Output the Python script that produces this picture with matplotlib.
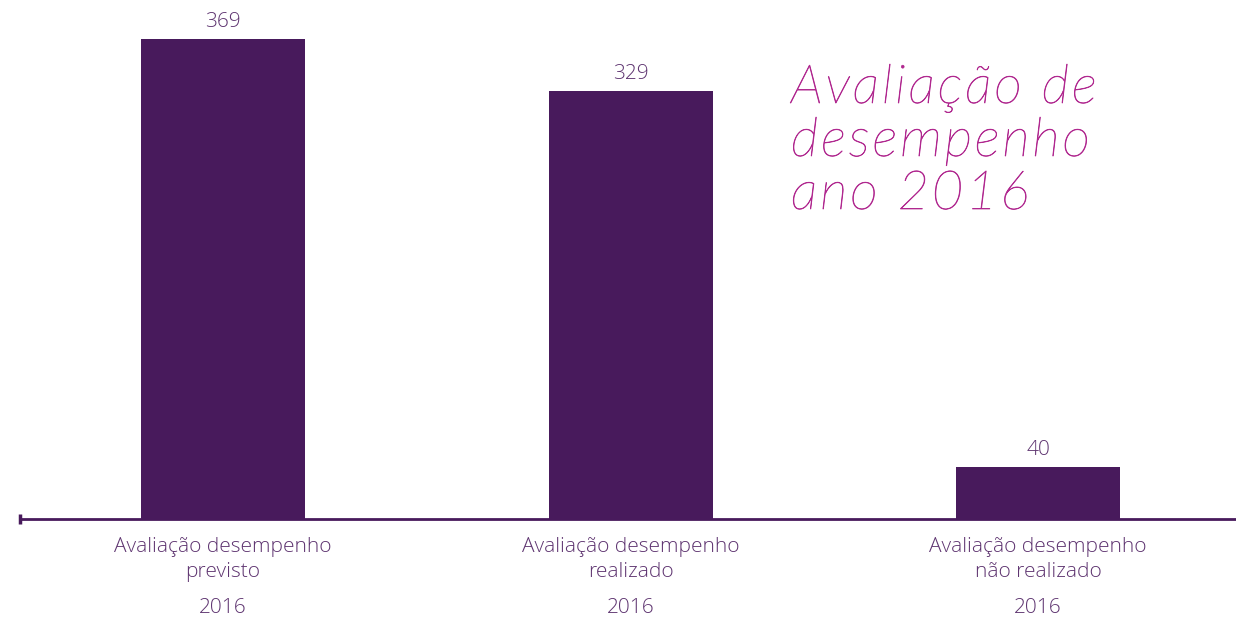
import matplotlib
matplotlib.use("Agg")
import matplotlib.pyplot as plt
from matplotlib.font_manager import FontProperties
from matplotlib.textpath import TextPath, text_to_path
from matplotlib.patches import PathPatch
from matplotlib.transforms import Affine2D, IdentityTransform

categories = ["Avaliação desempenho\nprevisto",
              "Avaliação desempenho\nrealizado",
              "Avaliação desempenho\nnão realizado"]
years = ["2016", "2016", "2016"]
values = [369, 329, 40]
title_lines = ["Avaliação de", "desempenho", "ano 2016"]

bar_color = "#481a5c"
text_color = "#5e3470"
title_color = "#b0288f"
font = ["Open Sans", "DejaVu Sans"]

W, H = 1236, 617
fig = plt.figure(figsize=(W / 100, H / 100), dpi=100)

axis_y_px = 519
px_per_unit = 480 / 369
ax = fig.add_axes([20 / W, (H - axis_y_px) / H, (W - 20) / W, axis_y_px / H])
spacing = 407.5
x = list(range(len(values)))
ax.set_xlim((20 - 223) / spacing, (W - 223) / spacing)
ax.set_ylim(0, axis_y_px / px_per_unit)
ax.bar(x, values, width=164 / spacing, color=bar_color, zorder=2)

for s in ["top", "right", "left"]:
    ax.spines[s].set_visible(False)
ax.spines["bottom"].set_color(bar_color)
ax.spines["bottom"].set_linewidth(2)
ax.set_yticks([])
ax.set_xticks([])

# small end tick at the left of the baseline
ax.plot([ax.get_xlim()[0]] * 2, [-5 / px_per_unit, 5 / px_per_unit],
        color=bar_color, lw=2.5, clip_on=False, solid_capstyle="butt")

for xi, v in zip(x, values):
    ax.annotate(str(v), (xi, v), xytext=(0, 5), textcoords="offset points",
                ha="center", va="bottom", fontsize=15, color=text_color,
                family=font, fontweight="light")

for xi, cat, yr in zip(x, categories, years):
    ax.annotate(cat, (xi, 0), xytext=(0, -13), textcoords="offset points",
                ha="center", va="top", fontsize=15, color=text_color,
                family=font, fontweight="light", linespacing=1.3)
    ax.annotate(yr, (xi, 0), xytext=(0, -57), textcoords="offset points",
                ha="center", va="top", fontsize=15, color=text_color,
                family=font, fontweight="light")

# Title: thin italic with open letter spacing, laid out glyph by glyph
title_prop = FontProperties(family="Lato", weight="light", style="italic")
size_px = 54
tracking_px = 2.8
ft = text_to_path._get_font(title_prop)
ft.set_size(text_to_path.FONT_SCALE, text_to_path.DPI)
scale = size_px / text_to_path.FONT_SCALE
baselines = [103, 156, 209]
for line, by in zip(title_lines, baselines):
    glyph_info = text_to_path.get_glyphs_with_font(ft, line)[0]
    xpos = [g[1] for g in glyph_info]
    for i, ch in enumerate(line):
        if ch == " ":
            continue
        tp = TextPath((0, 0), ch, size=size_px, prop=title_prop)
        tr = Affine2D().translate(791 + xpos[i] * scale + i * tracking_px, H - by)
        fig.patches.append(PathPatch(tr.transform_path(tp), facecolor=title_color,
                                     edgecolor=title_color, linewidth=0.5,
                                     transform=IdentityTransform(), figure=fig))

fig.savefig("out.png", dpi=100)
